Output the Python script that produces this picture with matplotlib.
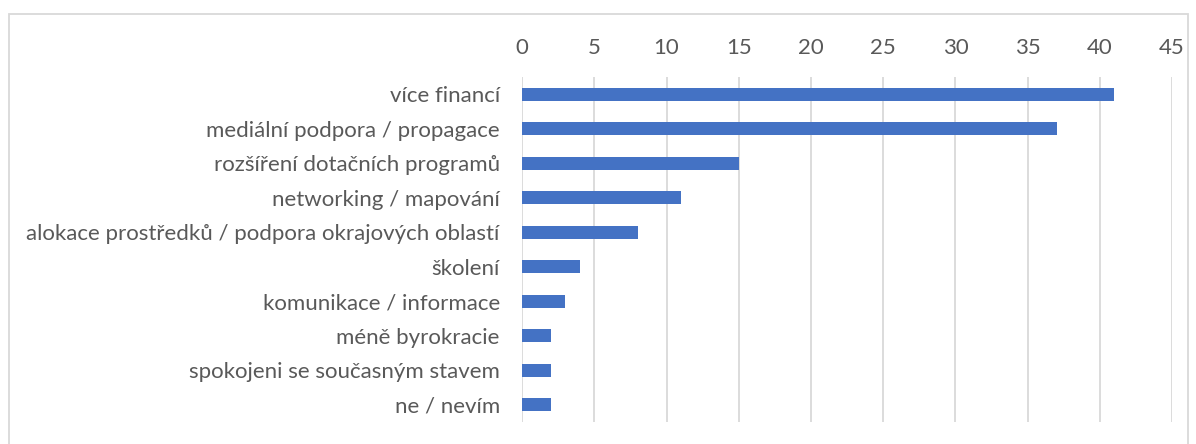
import matplotlib

matplotlib.use("Agg")
import matplotlib.pyplot as plt
from matplotlib.patches import Rectangle

kategorie = [
    "více financí",
    "mediální podpora / propagace",
    "rozšíření dotačních programů",
    "networking / mapování",
    "alokace prostředků / podpora okrajových oblastí",
    "školení",
    "komunikace / informace",
    "méně byrokracie",
    "spokojeni se současným stavem",
    "ne / nevím",
]
pocty = [41, 37, 15, 11, 8, 4, 3, 2, 2, 2]
tick_hodnoty = list(range(0, 50, 5))

barva_sloupce = "#4472c4"
barva_textu = "#595959"
barva_mrizky = "#d9d9d9"

plt.rcParams["font.family"] = ["Lato", "DejaVu Sans"]

fig = plt.figure(figsize=(11.96, 4.44), dpi=100)
ax = fig.add_axes([0.4365, 0.0495, 0.5435, 0.7771])

pozice = list(range(len(kategorie)))
ax.barh(pozice, pocty, height=0.37, color=barva_sloupce, zorder=3)
ax.set_ylim(len(kategorie) - 0.5, -0.5)
ax.set_xlim(0, 45)
ax.set_yticks(pozice, kategorie)
ax.set_xticks(tick_hodnoty)
ax.xaxis.tick_top()
ax.tick_params(axis="x", length=0, pad=14, labelsize=16, colors=barva_textu)
ax.tick_params(axis="y", length=0, pad=16, labelsize=16, colors=barva_textu)
ax.grid(axis="x", color=barva_mrizky, linewidth=1.3, zorder=0)
for spine in ax.spines.values():
    spine.set_visible(False)

fig.patches.append(
    Rectangle(
        (9 / 1196, -0.1),
        1179 / 1196,
        1.1 - 14 / 444,
        transform=fig.transFigure,
        fill=False,
        edgecolor=barva_mrizky,
        linewidth=1.3,
    )
)

fig.savefig("out.png", dpi=100)
plt.close(fig)
